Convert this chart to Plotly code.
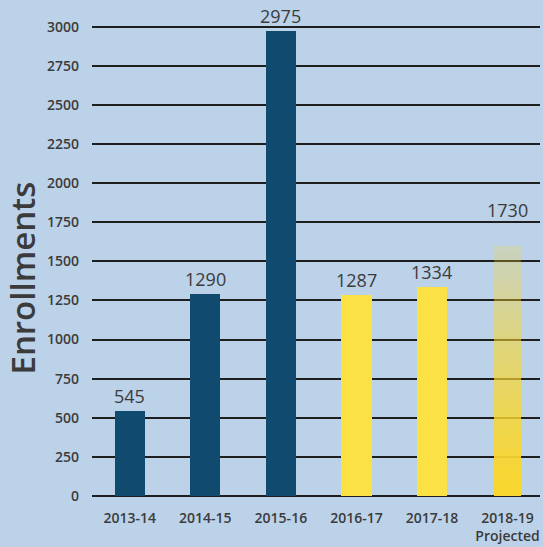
import plotly.graph_objects as go

years = ["2013-14", "2014-15", "2015-16", "2016-17", "2017-18", "2018-19"]
tick_text = ["2013-14", "2014-15", "2015-16", "2016-17", "2017-18", "2018-19<br>Projected"]
enrollments = [545, 1290, 2975, 1287, 1334, 1730]
actual_years = years[:3]
actual_vals = enrollments[:3]
later_years = years[3:5]
later_vals = enrollments[3:5]
projected_year = years[5]
projected_val = enrollments[5]
y_ticks = [0, 250, 500, 750, 1000, 1250, 1500, 1750, 2000, 2250, 2500, 2750, 3000]

NAVY = "#114a6f"
YELLOW = "#fbe144"
TEXT = "#3b3b3b"
BG = "#bbd2e9"

fig = go.Figure()

fig.add_trace(go.Bar(x=actual_years, y=actual_vals, marker=dict(color=NAVY, line=dict(width=0)),
                     width=0.4, hoverinfo="skip"))
fig.add_trace(go.Bar(x=later_years, y=later_vals, marker=dict(color=YELLOW, line=dict(width=0)),
                     width=0.4, hoverinfo="skip"))

# projected bar: stacked slices that fade out towards the top
n_steps = 40
for i in range(n_steps):
    a = 1.0 - 0.85 * (i / (n_steps - 1)) ** 1.2
    if i >= n_steps - 3:
        a = 0.0
    fig.add_trace(go.Bar(x=[projected_year], y=[projected_val / n_steps],
                         marker=dict(color=f"rgba(249,214,46,{a:.3f})", line=dict(width=0)),
                         width=0.37, hoverinfo="skip"))

# value labels above the bars
for yr, v in zip(years, enrollments):
    fig.add_annotation(x=yr, y=v, text=str(v), showarrow=False,
                       yanchor="bottom", yshift=1,
                       font=dict(size=18, color=TEXT, family="Open Sans"))

# axis title
fig.add_annotation(xref="paper", yref="paper", x=-0.155, y=0.46, text="Enrollments",
                   textangle=-90, showarrow=False, xanchor="center", yanchor="middle",
                   font=dict(size=33, color=TEXT, family="Open Sans", weight=600))

fig.update_layout(
    barmode="stack",
    width=543, height=547,
    paper_bgcolor=BG, plot_bgcolor=BG,
    showlegend=False,
    margin=dict(l=92, r=3, t=22, b=51),
    font=dict(family="Open Sans", color=TEXT),
    xaxis=dict(
        categoryorder="array", categoryarray=years,
        tickvals=years, ticktext=tick_text,
        range=[-0.5, 5.43], automargin=False,
        showgrid=False, zeroline=False, showline=False,
        ticks="", ticklabelstandoff=12,
        tickfont=dict(size=14, color=TEXT, weight=600),
    ),
    yaxis=dict(
        range=[0, 3030], tickvals=y_ticks, automargin=False,
        showgrid=True, gridcolor="#1e1e1e", gridwidth=2,
        zeroline=True, zerolinecolor="#1e1e1e", zerolinewidth=2,
        showline=False, ticks="", ticklabelstandoff=12,
        tickfont=dict(size=14, color=TEXT, weight=600),
    ),
)

fig.write_html("out.html", config={"displayModeBar": False},
               post_script="document.body.style.margin='0';")
